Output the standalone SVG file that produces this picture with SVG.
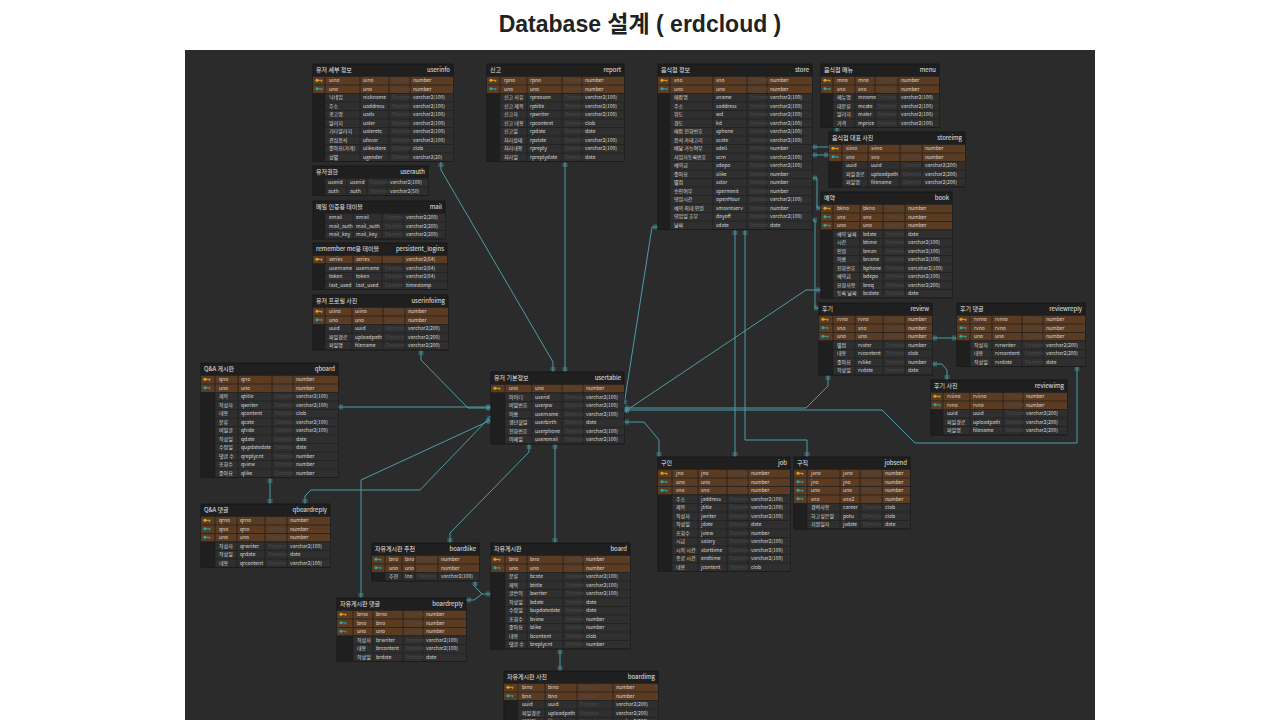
<svg xmlns="http://www.w3.org/2000/svg" width="1280" height="720" viewBox="0 0 1280 720">
<defs>
<style>
.tb{fill:#1f1f1f;stroke:#141414;stroke-width:.8}
.k{fill:#5b3b21}
.n{fill:#2f2f2f}
.g{fill:url(#g)}
.s{stroke:#1f1f1f;stroke-width:.8;fill:none}
.h{font-family:"Noto Sans CJK KR","Noto Sans",sans-serif;font-size:6px;fill:#e8e8e8}
.t{font-family:"Noto Sans CJK KR","Noto Sans",sans-serif;font-size:5px;fill:#dadada}
.d{fill:#4c4c4c}
.c{fill:none;stroke:#4a9ea6;stroke-width:1;marker-start:url(#m);marker-end:url(#m)}
.c1{fill:none;stroke:#4a9ea6;stroke-width:1;marker-start:url(#m)}
</style>
<pattern id="g" width="8.5" height="8.5" y="3.5" patternUnits="userSpaceOnUse"><rect width="8.5" height=".8" fill="#1f1f1f"/></pattern>
<marker id="m" markerWidth="10" markerHeight="10" refX="0" refY="0" orient="auto-start-reverse" markerUnits="userSpaceOnUse" overflow="visible"><path d="M-2,-2.6V2.6M-4,-2.6V2.6" stroke="#4a9ea6" stroke-width=".8" fill="none"/></marker>
<g id="kp" fill="#d8a521"><circle cx="4" cy="4.25" r="1.6"/><rect x="5" y="3.8" width="4.5" height="1"/><rect x="8" y="4.6" width="1" height="1.2"/></g>
<g id="kf" fill="#2aa7a3"><circle cx="4" cy="4.25" r="1.6"/><rect x="5" y="3.8" width="4.5" height="1"/><rect x="8" y="4.6" width="1" height="1.2"/></g>
</defs>
<rect width="1280" height="720" fill="#ffffff"/>
<text x="640" y="32" text-anchor="middle" font-family="Liberation Sans, Noto Sans CJK KR, sans-serif" font-size="23" font-weight="bold" fill="#222">Database 설계 ( erdcloud )</text>
<rect x="185" y="50" width="910" height="670" fill="#2b2b2b"/>

<g id="connectors">
<path class="c" d="M441,162V170L553,362V372"/>
<path class="c" d="M565,162V372"/>
<path class="c" d="M421,350V360L468,408H491"/>
<path class="c" d="M338,407H491"/>
<path class="c" d="M305,504V496L311,490H420L491,416"/>
<path class="c" d="M361,598V480L491,420"/>
<path class="c" d="M450,543V533L529,452V444"/>
<path class="c" d="M555,543V444"/>
<path class="c" d="M560,649V671"/>
<path class="c" d="M475,581V587L482,594H491"/>
<path class="c1" d="M466,600H474L482,594"/>
<path class="c" d="M270,478V504"/>
<path class="c" d="M658,227H652L624,405"/>
<path class="c" d="M624,422H644L659,440V457"/>
<path class="c" d="M735,230V457"/>
<path class="c" d="M745,230V440H807V457"/>
<path class="c" d="M624,412L806,290H821"/>
<path class="c" d="M624,408H806L828,386V375"/>
<path class="c" d="M624,410H882L915,443H1077V366"/>
<path class="c" d="M812,147H837V127"/>
<path class="c" d="M812,155H829"/>
<path class="c" d="M812,178H817V208H821"/>
<path class="c" d="M812,220H815V308H819"/>
<path class="c" d="M932,338H957"/>
<path class="c" d="M932,364H942L947,370V380"/>
</g>

<g id="userinfo" transform="translate(313,64)">
<rect class="tb" width="140" height="97.5"/>
<text class="h" x="3" y="8">유저 세부 정보</text><text class="h" x="137" y="8" text-anchor="end">userinfo</text>
<rect class="k" y="12" width="140" height="17"/><rect class="n" x="12" y="29" width="128" height="68"/>
<rect class="g" y="12" width="140" height="85.5"/>
<path class="s" d="M12,12V97.5M47,12V97.5M76,12V97.5M97,12V97.5"/>
<use href="#kp" y="12"/><use href="#kf" y="20.5"/>
<text class="t" y="18.2"><tspan x="16">uino</tspan><tspan x="50">uino</tspan><tspan class="d" x="79">Domain</tspan><tspan x="100">number</tspan></text>
<text class="t" y="26.7"><tspan x="16">uno</tspan><tspan x="50">uno</tspan><tspan class="d" x="79">Domain</tspan><tspan x="100">number</tspan></text>
<text class="t" y="35.2"><tspan x="16">닉네임</tspan><tspan x="50">nickname</tspan><tspan class="d" x="79">Domain</tspan><tspan x="100">varchar2(100)</tspan></text>
<text class="t" y="43.7"><tspan x="16">주소</tspan><tspan x="50">uaddress</tspan><tspan class="d" x="79">Domain</tspan><tspan x="100">varchar2(100)</tspan></text>
<text class="t" y="52.2"><tspan x="16">광고명</tspan><tspan x="50">uads</tspan><tspan class="d" x="79">Domain</tspan><tspan x="100">varchar2(100)</tspan></text>
<text class="t" y="60.7"><tspan x="16">알러지</tspan><tspan x="50">ualer</tspan><tspan class="d" x="79">Domain</tspan><tspan x="100">varchar2(100)</tspan></text>
<text class="t" y="69.2"><tspan x="16">기타알러지</tspan><tspan x="50">ualeretc</tspan><tspan class="d" x="79">Domain</tspan><tspan x="100">varchar2(100)</tspan></text>
<text class="t" y="77.7"><tspan x="16">관심음식</tspan><tspan x="50">ufavor</tspan><tspan class="d" x="79">Domain</tspan><tspan x="100">varchar2(100)</tspan></text>
<text class="t" y="86.2"><tspan x="16">좋아요(가게)</tspan><tspan x="50">ulikestore</tspan><tspan class="d" x="79">Domain</tspan><tspan x="100">clob</tspan></text>
<text class="t" y="94.7"><tspan x="16">성별</tspan><tspan x="50">ugender</tspan><tspan class="d" x="79">Domain</tspan><tspan x="100">varchar2(20)</tspan></text>
</g>

<g id="userauth" transform="translate(313,166)">
<rect class="tb" width="115" height="29.5"/>
<text class="h" x="3" y="8">유저권한</text><text class="h" x="112" y="8" text-anchor="end">userauth</text>
<rect class="n" x="12" y="12" width="103" height="17"/>
<rect class="g" y="12" width="115" height="17.5"/>
<path class="s" d="M12,12V29.5M34,12V29.5M54,12V29.5M74,12V29.5"/>
<text class="t" y="18.2"><tspan x="15">userid</tspan><tspan x="37">userid</tspan><tspan class="d" x="57">Domain</tspan><tspan x="77">varchar2(100)</tspan></text>
<text class="t" y="26.7"><tspan x="15">auth</tspan><tspan x="37">auth</tspan><tspan class="d" x="57">Domain</tspan><tspan x="77">varchar2(50)</tspan></text>
</g>

<g id="mail" transform="translate(313,201)">
<rect class="tb" width="132" height="38"/>
<text class="h" x="3" y="8">메일 인증용 테이블</text><text class="h" x="129" y="8" text-anchor="end">mail</text>
<rect class="n" x="12" y="12" width="120" height="25.5"/>
<rect class="g" y="12" width="132" height="26"/>
<path class="s" d="M12,12V38M40,12V38M69,12V38M90,12V38"/>
<text class="t" y="18.2"><tspan x="16">email</tspan><tspan x="43">email</tspan><tspan class="d" x="72">Domain</tspan><tspan x="93">varchar2(200)</tspan></text>
<text class="t" y="26.7"><tspan x="16">mail_auth</tspan><tspan x="43">mail_auth</tspan><tspan class="d" x="72">Domain</tspan><tspan x="93">varchar2(200)</tspan></text>
<text class="t" y="35.2"><tspan x="16">mail_key</tspan><tspan x="43">mail_key</tspan><tspan class="d" x="72">Domain</tspan><tspan x="93">varchar2(200)</tspan></text>
</g>

<g id="persistent_logins" transform="translate(313,243)">
<rect class="tb" width="134" height="46.5"/>
<text class="h" x="3" y="8">remember me용 테이블</text><text class="h" x="131" y="8" text-anchor="end">persistent_logins</text>
<rect class="k" y="12" width="134" height="8.5"/><rect class="n" x="12" y="20.5" width="122" height="25.5"/>
<rect class="g" y="12" width="134" height="34.5"/>
<path class="s" d="M12,12V46.5M40,12V46.5M69,12V46.5M90,12V46.5"/>
<use href="#kp" y="12"/>
<text class="t" y="18.2"><tspan x="16">series</tspan><tspan x="43">series</tspan><tspan class="d" x="72">Domain</tspan><tspan x="93">varchar2(64)</tspan></text>
<text class="t" y="26.7"><tspan x="16">username</tspan><tspan x="43">username</tspan><tspan class="d" x="72">Domain</tspan><tspan x="93">varchar2(64)</tspan></text>
<text class="t" y="35.2"><tspan x="16">token</tspan><tspan x="43">token</tspan><tspan class="d" x="72">Domain</tspan><tspan x="93">varchar2(64)</tspan></text>
<text class="t" y="43.7"><tspan x="16">last_used</tspan><tspan x="43">last_used</tspan><tspan class="d" x="72">Domain</tspan><tspan x="93">timestamp</tspan></text>
</g>

<g id="userinfoimg" transform="translate(313,295)">
<rect class="tb" width="135" height="55"/>
<text class="h" x="3" y="8">유저 프로필 사진</text><text class="h" x="132" y="8" text-anchor="end">userinfoimg</text>
<rect class="k" y="12" width="135" height="17"/><rect class="n" x="12" y="29" width="123" height="25.5"/>
<rect class="g" y="12" width="135" height="43"/>
<path class="s" d="M12,12V55M39,12V55M70,12V55M92,12V55"/>
<use href="#kp" y="12"/><use href="#kf" y="20.5"/>
<text class="t" y="18.2"><tspan x="16">uiino</tspan><tspan x="42">uiino</tspan><tspan class="d" x="73">Domain</tspan><tspan x="95">number</tspan></text>
<text class="t" y="26.7"><tspan x="16">uno</tspan><tspan x="42">uno</tspan><tspan class="d" x="73">Domain</tspan><tspan x="95">number</tspan></text>
<text class="t" y="35.2"><tspan x="16">uuid</tspan><tspan x="42">uuid</tspan><tspan class="d" x="73">Domain</tspan><tspan x="95">varchar2(200)</tspan></text>
<text class="t" y="43.7"><tspan x="16">파일경로</tspan><tspan x="42">uploadpath</tspan><tspan class="d" x="73">Domain</tspan><tspan x="95">varchar2(200)</tspan></text>
<text class="t" y="52.2"><tspan x="16">파일명</tspan><tspan x="42">filename</tspan><tspan class="d" x="73">Domain</tspan><tspan x="95">varchar2(200)</tspan></text>
</g>

<g id="report" transform="translate(487,64)">
<rect class="tb" width="137" height="97.5"/>
<text class="h" x="3" y="8">신고</text><text class="h" x="134" y="8" text-anchor="end">report</text>
<rect class="k" y="12" width="137" height="17"/><rect class="n" x="13" y="29" width="124" height="68"/>
<rect class="g" y="12" width="137" height="85.5"/>
<path class="s" d="M13,12V97.5M40,12V97.5M75,12V97.5M95,12V97.5"/>
<use href="#kp" y="12"/><use href="#kf" y="20.5"/>
<text class="t" y="18.2"><tspan x="17">rpno</tspan><tspan x="43">rpno</tspan><tspan class="d" x="78">Domain</tspan><tspan x="98">number</tspan></text>
<text class="t" y="26.7"><tspan x="17">uno</tspan><tspan x="43">uno</tspan><tspan class="d" x="78">Domain</tspan><tspan x="98">number</tspan></text>
<text class="t" y="35.2"><tspan x="17">신고 사유</tspan><tspan x="43">rpreason</tspan><tspan class="d" x="78">Domain</tspan><tspan x="98">varchar2(100)</tspan></text>
<text class="t" y="43.7"><tspan x="17">신고 제목</tspan><tspan x="43">rptitle</tspan><tspan class="d" x="78">Domain</tspan><tspan x="98">varchar2(100)</tspan></text>
<text class="t" y="52.2"><tspan x="17">신고자</tspan><tspan x="43">rpwriter</tspan><tspan class="d" x="78">Domain</tspan><tspan x="98">varchar2(100)</tspan></text>
<text class="t" y="60.7"><tspan x="17">신고 내용</tspan><tspan x="43">rpcontent</tspan><tspan class="d" x="78">Domain</tspan><tspan x="98">clob</tspan></text>
<text class="t" y="69.2"><tspan x="17">신고일</tspan><tspan x="43">rpdate</tspan><tspan class="d" x="78">Domain</tspan><tspan x="98">date</tspan></text>
<text class="t" y="77.7"><tspan x="17">처리상태</tspan><tspan x="43">rpstate</tspan><tspan class="d" x="78">Domain</tspan><tspan x="98">varchar2(100)</tspan></text>
<text class="t" y="86.2"><tspan x="17">처리내용</tspan><tspan x="43">rpreply</tspan><tspan class="d" x="78">Domain</tspan><tspan x="98">varchar2(100)</tspan></text>
<text class="t" y="94.7"><tspan x="17">처리일</tspan><tspan x="43">rpreplydate</tspan><tspan class="d" x="78">Domain</tspan><tspan x="98">date</tspan></text>
</g>

<g id="store" transform="translate(658,64)">
<rect class="tb" width="154" height="165.5"/>
<text class="h" x="3" y="8">음식점 정보</text><text class="h" x="151" y="8" text-anchor="end">store</text>
<rect class="k" y="12" width="154" height="17"/><rect class="n" x="12" y="29" width="142" height="136"/>
<rect class="g" y="12" width="154" height="153.5"/>
<path class="s" d="M12,12V165.5M55,12V165.5M89,12V165.5M109,12V165.5"/>
<use href="#kp" y="12"/><use href="#kf" y="20.5"/>
<text class="t" y="18.2"><tspan x="16">sno</tspan><tspan x="58">sno</tspan><tspan class="d" x="92">Domain</tspan><tspan x="112">number</tspan></text>
<text class="t" y="26.7"><tspan x="16">uno</tspan><tspan x="58">uno</tspan><tspan class="d" x="92">Domain</tspan><tspan x="112">number</tspan></text>
<text class="t" y="35.2"><tspan x="16">매장명</tspan><tspan x="58">sname</tspan><tspan class="d" x="92">Domain</tspan><tspan x="112">varchar2(100)</tspan></text>
<text class="t" y="43.7"><tspan x="16">주소</tspan><tspan x="58">saddress</tspan><tspan class="d" x="92">Domain</tspan><tspan x="112">varchar2(100)</tspan></text>
<text class="t" y="52.2"><tspan x="16">위도</tspan><tspan x="58">wd</tspan><tspan class="d" x="92">Domain</tspan><tspan x="112">varchar2(100)</tspan></text>
<text class="t" y="60.7"><tspan x="16">경도</tspan><tspan x="58">kd</tspan><tspan class="d" x="92">Domain</tspan><tspan x="112">varchar2(100)</tspan></text>
<text class="t" y="69.2"><tspan x="16">매장 전화번호</tspan><tspan x="58">sphone</tspan><tspan class="d" x="92">Domain</tspan><tspan x="112">varchar2(100)</tspan></text>
<text class="t" y="77.7"><tspan x="16">음식 카테고리</tspan><tspan x="58">scate</tspan><tspan class="d" x="92">Domain</tspan><tspan x="112">varchar2(100)</tspan></text>
<text class="t" y="86.2"><tspan x="16">배달 가능여부</tspan><tspan x="58">sdeli</tspan><tspan class="d" x="92">Domain</tspan><tspan x="112">number</tspan></text>
<text class="t" y="94.7"><tspan x="16">사업자등록번호</tspan><tspan x="58">scrn</tspan><tspan class="d" x="92">Domain</tspan><tspan x="112">varchar2(100)</tspan></text>
<text class="t" y="103.2"><tspan x="16">예약금</tspan><tspan x="58">sdepo</tspan><tspan class="d" x="92">Domain</tspan><tspan x="112">varchar2(100)</tspan></text>
<text class="t" y="111.7"><tspan x="16">좋아요</tspan><tspan x="58">slike</tspan><tspan class="d" x="92">Domain</tspan><tspan x="112">number</tspan></text>
<text class="t" y="120.2"><tspan x="16">별점</tspan><tspan x="58">sstar</tspan><tspan class="d" x="92">Domain</tspan><tspan x="112">number</tspan></text>
<text class="t" y="128.7"><tspan x="16">승인여부</tspan><tspan x="58">spermmit</tspan><tspan class="d" x="92">Domain</tspan><tspan x="112">number</tspan></text>
<text class="t" y="137.2"><tspan x="16">영업시간</tspan><tspan x="58">openHour</tspan><tspan class="d" x="92">Domain</tspan><tspan x="112">varchar2(100)</tspan></text>
<text class="t" y="145.7"><tspan x="16">예약 최대 인원</tspan><tspan x="58">smaxreserv</tspan><tspan class="d" x="92">Domain</tspan><tspan x="112">number</tspan></text>
<text class="t" y="154.2"><tspan x="16">영업일 휴무</tspan><tspan x="58">dayoff</tspan><tspan class="d" x="92">Domain</tspan><tspan x="112">varchar2(100)</tspan></text>
<text class="t" y="162.7"><tspan x="16">날짜</tspan><tspan x="58">sdate</tspan><tspan class="d" x="92">Domain</tspan><tspan x="112">date</tspan></text>
</g>

<g id="menu" transform="translate(821,64)">
<rect class="tb" width="118" height="63.5"/>
<text class="h" x="3" y="8">음식점 메뉴</text><text class="h" x="115" y="8" text-anchor="end">menu</text>
<rect class="k" y="12" width="118" height="17"/><rect class="n" x="12" y="29" width="106" height="34"/>
<rect class="g" y="12" width="118" height="51.5"/>
<path class="s" d="M12,12V63.5M34,12V63.5M54,12V63.5M77,12V63.5"/>
<use href="#kp" y="12"/><use href="#kf" y="20.5"/>
<text class="t" y="18.2"><tspan x="16">mno</tspan><tspan x="37">mno</tspan><tspan class="d" x="57">Domain</tspan><tspan x="80">number</tspan></text>
<text class="t" y="26.7"><tspan x="16">sno</tspan><tspan x="37">sno</tspan><tspan class="d" x="57">Domain</tspan><tspan x="80">number</tspan></text>
<text class="t" y="35.2"><tspan x="16">메뉴명</tspan><tspan x="37">mname</tspan><tspan class="d" x="57">Domain</tspan><tspan x="80">varchar2(100)</tspan></text>
<text class="t" y="43.7"><tspan x="16">대분류</tspan><tspan x="37">mcate</tspan><tspan class="d" x="57">Domain</tspan><tspan x="80">varchar2(100)</tspan></text>
<text class="t" y="52.2"><tspan x="16">알러지</tspan><tspan x="37">maler</tspan><tspan class="d" x="57">Domain</tspan><tspan x="80">varchar2(100)</tspan></text>
<text class="t" y="60.7"><tspan x="16">가격</tspan><tspan x="37">mprice</tspan><tspan class="d" x="57">Domain</tspan><tspan x="80">varchar2(100)</tspan></text>
</g>

<g id="storeimg" transform="translate(829,132)">
<rect class="tb" width="136" height="55"/>
<text class="h" x="3" y="8">음식점 대표 사진</text><text class="h" x="133" y="8" text-anchor="end">storeimg</text>
<rect class="k" y="12" width="136" height="17"/><rect class="n" x="13" y="29" width="123" height="25.5"/>
<rect class="g" y="12" width="136" height="43"/>
<path class="s" d="M13,12V55M39,12V55M71,12V55M93,12V55"/>
<use href="#kp" y="12"/><use href="#kf" y="20.5"/>
<text class="t" y="18.2"><tspan x="17">siino</tspan><tspan x="42">siino</tspan><tspan class="d" x="74">Domain</tspan><tspan x="96">number</tspan></text>
<text class="t" y="26.7"><tspan x="17">sno</tspan><tspan x="42">sno</tspan><tspan class="d" x="74">Domain</tspan><tspan x="96">number</tspan></text>
<text class="t" y="35.2"><tspan x="17">uuid</tspan><tspan x="42">uuid</tspan><tspan class="d" x="74">Domain</tspan><tspan x="96">varchar2(200)</tspan></text>
<text class="t" y="43.7"><tspan x="17">파일경로</tspan><tspan x="42">uploadpath</tspan><tspan class="d" x="74">Domain</tspan><tspan x="96">varchar2(200)</tspan></text>
<text class="t" y="52.2"><tspan x="17">파일명</tspan><tspan x="42">filename</tspan><tspan class="d" x="74">Domain</tspan><tspan x="96">varchar2(200)</tspan></text>
</g>

<g id="book" transform="translate(821,192)">
<rect class="tb" width="131" height="106"/>
<text class="h" x="3" y="8">예약</text><text class="h" x="128" y="8" text-anchor="end">book</text>
<rect class="k" y="12" width="131" height="25.5"/><rect class="n" x="12" y="37.5" width="119" height="68"/>
<rect class="g" y="12" width="131" height="94"/>
<path class="s" d="M12,12V106M39,12V106M62,12V106M84,12V106"/>
<use href="#kp" y="12"/><use href="#kf" y="20.5"/><use href="#kf" y="29"/>
<text class="t" y="18.2"><tspan x="16">bkno</tspan><tspan x="42">bkno</tspan><tspan class="d" x="65">Domain</tspan><tspan x="87">number</tspan></text>
<text class="t" y="26.7"><tspan x="16">sno</tspan><tspan x="42">sno</tspan><tspan class="d" x="65">Domain</tspan><tspan x="87">number</tspan></text>
<text class="t" y="35.2"><tspan x="16">uno</tspan><tspan x="42">uno</tspan><tspan class="d" x="65">Domain</tspan><tspan x="87">number</tspan></text>
<text class="t" y="43.7"><tspan x="16">예약 날짜</tspan><tspan x="42">bdate</tspan><tspan class="d" x="65">Domain</tspan><tspan x="87">date</tspan></text>
<text class="t" y="52.2"><tspan x="16">시간</tspan><tspan x="42">btime</tspan><tspan class="d" x="65">Domain</tspan><tspan x="87">varchar2(100)</tspan></text>
<text class="t" y="60.7"><tspan x="16">인원</tspan><tspan x="42">bman</tspan><tspan class="d" x="65">Domain</tspan><tspan x="87">varchar2(100)</tspan></text>
<text class="t" y="69.2"><tspan x="16">이름</tspan><tspan x="42">bname</tspan><tspan class="d" x="65">Domain</tspan><tspan x="87">varchar2(100)</tspan></text>
<text class="t" y="77.7"><tspan x="16">전화번호</tspan><tspan x="42">bphone</tspan><tspan class="d" x="65">Domain</tspan><tspan x="87">varcahar2(100)</tspan></text>
<text class="t" y="86.2"><tspan x="16">예약금</tspan><tspan x="42">bdepo</tspan><tspan class="d" x="65">Domain</tspan><tspan x="87">varchar2(100)</tspan></text>
<text class="t" y="94.7"><tspan x="16">요청사항</tspan><tspan x="42">breq</tspan><tspan class="d" x="65">Domain</tspan><tspan x="87">varchar2(200)</tspan></text>
<text class="t" y="103.2"><tspan x="16">등록 날짜</tspan><tspan x="42">bcdate</tspan><tspan class="d" x="65">Domain</tspan><tspan x="87">date</tspan></text>
</g>

<g id="review" transform="translate(819,303)">
<rect class="tb" width="113" height="72"/>
<text class="h" x="3" y="8">후기</text><text class="h" x="110" y="8" text-anchor="end">review</text>
<rect class="k" y="12" width="113" height="25.5"/><rect class="n" x="14" y="37.5" width="99" height="34"/>
<rect class="g" y="12" width="113" height="60"/>
<path class="s" d="M14,12V72M36,12V72M64,12V72M86,12V72"/>
<use href="#kp" y="12"/><use href="#kf" y="20.5"/><use href="#kf" y="29"/>
<text class="t" y="18.2"><tspan x="18">rvno</tspan><tspan x="39">rvno</tspan><tspan class="d" x="67">Domain</tspan><tspan x="89">number</tspan></text>
<text class="t" y="26.7"><tspan x="18">sno</tspan><tspan x="39">sno</tspan><tspan class="d" x="67">Domain</tspan><tspan x="89">number</tspan></text>
<text class="t" y="35.2"><tspan x="18">uno</tspan><tspan x="39">uno</tspan><tspan class="d" x="67">Domain</tspan><tspan x="89">number</tspan></text>
<text class="t" y="43.7"><tspan x="18">별점</tspan><tspan x="39">rvstar</tspan><tspan class="d" x="67">Domain</tspan><tspan x="89">number</tspan></text>
<text class="t" y="52.2"><tspan x="18">내용</tspan><tspan x="39">rvcontent</tspan><tspan class="d" x="67">Domain</tspan><tspan x="89">clob</tspan></text>
<text class="t" y="60.7"><tspan x="18">좋아요</tspan><tspan x="39">rvlike</tspan><tspan class="d" x="67">Domain</tspan><tspan x="89">number</tspan></text>
<text class="t" y="69.2"><tspan x="18">작성일</tspan><tspan x="39">rvdate</tspan><tspan class="d" x="67">Domain</tspan><tspan x="89">date</tspan></text>
</g>

<g id="reviewreply" transform="translate(957,303)">
<rect class="tb" width="128" height="63.5"/>
<text class="h" x="3" y="8">후기 댓글</text><text class="h" x="125" y="8" text-anchor="end">reviewreply</text>
<rect class="k" y="12" width="128" height="25.5"/><rect class="n" x="13" y="37.5" width="115" height="25.5"/>
<rect class="g" y="12" width="128" height="51.5"/>
<path class="s" d="M13,12V63.5M35,12V63.5M65,12V63.5M86,12V63.5"/>
<use href="#kp" y="12"/><use href="#kf" y="20.5"/><use href="#kf" y="29"/>
<text class="t" y="18.2"><tspan x="17">rvrno</tspan><tspan x="38">rvrno</tspan><tspan class="d" x="68">Domain</tspan><tspan x="89">number</tspan></text>
<text class="t" y="26.7"><tspan x="17">rvno</tspan><tspan x="38">rvno</tspan><tspan class="d" x="68">Domain</tspan><tspan x="89">number</tspan></text>
<text class="t" y="35.2"><tspan x="17">uno</tspan><tspan x="38">uno</tspan><tspan class="d" x="68">Domain</tspan><tspan x="89">number</tspan></text>
<text class="t" y="43.7"><tspan x="17">작성자</tspan><tspan x="38">rvrwriter</tspan><tspan class="d" x="68">Domain</tspan><tspan x="89">varchar2(200)</tspan></text>
<text class="t" y="52.2"><tspan x="17">내용</tspan><tspan x="38">rvrcontent</tspan><tspan class="d" x="68">Domain</tspan><tspan x="89">varchar2(200)</tspan></text>
<text class="t" y="60.7"><tspan x="17">작성일</tspan><tspan x="38">rvrdate</tspan><tspan class="d" x="68">Domain</tspan><tspan x="89">date</tspan></text>
</g>

<g id="reviewimg" transform="translate(931,380)">
<rect class="tb" width="136" height="55"/>
<text class="h" x="3" y="8">후기 사진</text><text class="h" x="133" y="8" text-anchor="end">reviewimg</text>
<rect class="k" y="12" width="136" height="17"/><rect class="n" x="12" y="29" width="124" height="25.5"/>
<rect class="g" y="12" width="136" height="43"/>
<path class="s" d="M12,12V55M39,12V55M72,12V55M92,12V55"/>
<use href="#kp" y="12"/><use href="#kf" y="20.5"/>
<text class="t" y="18.2"><tspan x="16">rviino</tspan><tspan x="42">rviino</tspan><tspan class="d" x="75">Domain</tspan><tspan x="95">number</tspan></text>
<text class="t" y="26.7"><tspan x="16">rvno</tspan><tspan x="42">rvno</tspan><tspan class="d" x="75">Domain</tspan><tspan x="95">number</tspan></text>
<text class="t" y="35.2"><tspan x="16">uuid</tspan><tspan x="42">uuid</tspan><tspan class="d" x="75">Domain</tspan><tspan x="95">varchar2(200)</tspan></text>
<text class="t" y="43.7"><tspan x="16">파일경로</tspan><tspan x="42">uploadpath</tspan><tspan class="d" x="75">Domain</tspan><tspan x="95">varchar2(200)</tspan></text>
<text class="t" y="52.2"><tspan x="16">파일명</tspan><tspan x="42">filename</tspan><tspan class="d" x="75">Domain</tspan><tspan x="95">varchar2(200)</tspan></text>
</g>

<g id="usertable" transform="translate(491,372)">
<rect class="tb" width="133" height="72"/>
<text class="h" x="3" y="8">유저 기본정보</text><text class="h" x="130" y="8" text-anchor="end">usertable</text>
<rect class="k" y="12" width="133" height="8.5"/><rect class="n" x="14" y="20.5" width="119" height="51"/>
<rect class="g" y="12" width="133" height="60"/>
<path class="s" d="M14,12V72M41,12V72M71,12V72M92,12V72"/>
<use href="#kp" y="12"/>
<text class="t" y="18.2"><tspan x="18">uno</tspan><tspan x="44">uno</tspan><tspan class="d" x="74">Domain</tspan><tspan x="95">number</tspan></text>
<text class="t" y="26.7"><tspan x="18">아이디</tspan><tspan x="44">userid</tspan><tspan class="d" x="74">Domain</tspan><tspan x="95">varchar2(100)</tspan></text>
<text class="t" y="35.2"><tspan x="18">비밀번호</tspan><tspan x="44">userpw</tspan><tspan class="d" x="74">Domain</tspan><tspan x="95">varchar2(100)</tspan></text>
<text class="t" y="43.7"><tspan x="18">이름</tspan><tspan x="44">username</tspan><tspan class="d" x="74">Domain</tspan><tspan x="95">varchar2(100)</tspan></text>
<text class="t" y="52.2"><tspan x="18">생년월일</tspan><tspan x="44">userbirth</tspan><tspan class="d" x="74">Domain</tspan><tspan x="95">date</tspan></text>
<text class="t" y="60.7"><tspan x="18">전화번호</tspan><tspan x="44">userphone</tspan><tspan class="d" x="74">Domain</tspan><tspan x="95">varchar2(100)</tspan></text>
<text class="t" y="69.2"><tspan x="18">이메일</tspan><tspan x="44">useremail</tspan><tspan class="d" x="74">Domain</tspan><tspan x="95">varchar2(100)</tspan></text>
</g>

<g id="qboard" transform="translate(201,363)">
<rect class="tb" width="137" height="114.5"/>
<text class="h" x="3" y="8">Q&amp;A 게시판</text><text class="h" x="134" y="8" text-anchor="end">qboard</text>
<rect class="k" y="12" width="137" height="17"/><rect class="n" x="14" y="29" width="123" height="85"/>
<rect class="g" y="12" width="137" height="102.5"/>
<path class="s" d="M14,12V114.5M37,12V114.5M71,12V114.5M92,12V114.5"/>
<use href="#kp" y="12"/><use href="#kf" y="20.5"/>
<text class="t" y="18.2"><tspan x="18">qno</tspan><tspan x="40">qno</tspan><tspan class="d" x="74">Domain</tspan><tspan x="95">number</tspan></text>
<text class="t" y="26.7"><tspan x="18">uno</tspan><tspan x="40">uno</tspan><tspan class="d" x="74">Domain</tspan><tspan x="95">number</tspan></text>
<text class="t" y="35.2"><tspan x="18">제목</tspan><tspan x="40">qtitle</tspan><tspan class="d" x="74">Domain</tspan><tspan x="95">varchar2(100)</tspan></text>
<text class="t" y="43.7"><tspan x="18">작성자</tspan><tspan x="40">qwriter</tspan><tspan class="d" x="74">Domain</tspan><tspan x="95">varchar2(100)</tspan></text>
<text class="t" y="52.2"><tspan x="18">내용</tspan><tspan x="40">qcontent</tspan><tspan class="d" x="74">Domain</tspan><tspan x="95">clob</tspan></text>
<text class="t" y="60.7"><tspan x="18">분류</tspan><tspan x="40">qcate</tspan><tspan class="d" x="74">Domain</tspan><tspan x="95">varchar2(100)</tspan></text>
<text class="t" y="69.2"><tspan x="18">비밀글</tspan><tspan x="40">qhide</tspan><tspan class="d" x="74">Domain</tspan><tspan x="95">varchar2(100)</tspan></text>
<text class="t" y="77.7"><tspan x="18">작성일</tspan><tspan x="40">qdate</tspan><tspan class="d" x="74">Domain</tspan><tspan x="95">date</tspan></text>
<text class="t" y="86.2"><tspan x="18">수정일</tspan><tspan x="40">qupdatedate</tspan><tspan class="d" x="74">Domain</tspan><tspan x="95">date</tspan></text>
<text class="t" y="94.7"><tspan x="18">댓글 수</tspan><tspan x="40">qreplycnt</tspan><tspan class="d" x="74">Domain</tspan><tspan x="95">number</tspan></text>
<text class="t" y="103.2"><tspan x="18">조회수</tspan><tspan x="40">qview</tspan><tspan class="d" x="74">Domain</tspan><tspan x="95">number</tspan></text>
<text class="t" y="111.7"><tspan x="18">좋아요</tspan><tspan x="40">qlike</tspan><tspan class="d" x="74">Domain</tspan><tspan x="95">number</tspan></text>
</g>

<g id="qboardreply" transform="translate(201,504)">
<rect class="tb" width="129" height="63.5"/>
<text class="h" x="3" y="8">Q&amp;A 댓글</text><text class="h" x="126" y="8" text-anchor="end">qboardreply</text>
<rect class="k" y="12" width="129" height="25.5"/><rect class="n" x="14" y="37.5" width="115" height="25.5"/>
<rect class="g" y="12" width="129" height="51.5"/>
<path class="s" d="M14,12V63.5M36,12V63.5M64,12V63.5M86,12V63.5"/>
<use href="#kp" y="12"/><use href="#kf" y="20.5"/><use href="#kf" y="29"/>
<text class="t" y="18.2"><tspan x="18">qrno</tspan><tspan x="39">qrno</tspan><tspan class="d" x="67">Domain</tspan><tspan x="89">number</tspan></text>
<text class="t" y="26.7"><tspan x="18">qno</tspan><tspan x="39">qno</tspan><tspan class="d" x="67">Domain</tspan><tspan x="89">number</tspan></text>
<text class="t" y="35.2"><tspan x="18">uno</tspan><tspan x="39">uno</tspan><tspan class="d" x="67">Domain</tspan><tspan x="89">number</tspan></text>
<text class="t" y="43.7"><tspan x="18">작성자</tspan><tspan x="39">qrwriter</tspan><tspan class="d" x="67">Domain</tspan><tspan x="89">varchar2(100)</tspan></text>
<text class="t" y="52.2"><tspan x="18">작성일</tspan><tspan x="39">qrdate</tspan><tspan class="d" x="67">Domain</tspan><tspan x="89">date</tspan></text>
<text class="t" y="60.7"><tspan x="18">내용</tspan><tspan x="39">qrcontent</tspan><tspan class="d" x="67">Domain</tspan><tspan x="89">varchar2(100)</tspan></text>
</g>

<g id="job" transform="translate(658,457)">
<rect class="tb" width="132" height="114.5"/>
<text class="h" x="3" y="8">구인</text><text class="h" x="129" y="8" text-anchor="end">job</text>
<rect class="k" y="12" width="132" height="25.5"/><rect class="n" x="14" y="37.5" width="118" height="76.5"/>
<rect class="g" y="12" width="132" height="102.5"/>
<path class="s" d="M14,12V114.5M40,12V114.5M69,12V114.5M90,12V114.5"/>
<use href="#kp" y="12"/><use href="#kf" y="20.5"/><use href="#kf" y="29"/>
<text class="t" y="18.2"><tspan x="18">jno</tspan><tspan x="43">jno</tspan><tspan class="d" x="72">Domain</tspan><tspan x="93">number</tspan></text>
<text class="t" y="26.7"><tspan x="18">uno</tspan><tspan x="43">uno</tspan><tspan class="d" x="72">Domain</tspan><tspan x="93">number</tspan></text>
<text class="t" y="35.2"><tspan x="18">sno</tspan><tspan x="43">sno</tspan><tspan class="d" x="72">Domain</tspan><tspan x="93">number</tspan></text>
<text class="t" y="43.7"><tspan x="18">주소</tspan><tspan x="43">jaddress</tspan><tspan class="d" x="72">Domain</tspan><tspan x="93">varchar2(100)</tspan></text>
<text class="t" y="52.2"><tspan x="18">제목</tspan><tspan x="43">jtitle</tspan><tspan class="d" x="72">Domain</tspan><tspan x="93">varchar2(100)</tspan></text>
<text class="t" y="60.7"><tspan x="18">작성자</tspan><tspan x="43">jwriter</tspan><tspan class="d" x="72">Domain</tspan><tspan x="93">varchar2(100)</tspan></text>
<text class="t" y="69.2"><tspan x="18">작성일</tspan><tspan x="43">jdate</tspan><tspan class="d" x="72">Domain</tspan><tspan x="93">date</tspan></text>
<text class="t" y="77.7"><tspan x="18">조회수</tspan><tspan x="43">jview</tspan><tspan class="d" x="72">Domain</tspan><tspan x="93">number</tspan></text>
<text class="t" y="86.2"><tspan x="18">시급</tspan><tspan x="43">salary</tspan><tspan class="d" x="72">Domain</tspan><tspan x="93">varchar2(100)</tspan></text>
<text class="t" y="94.7"><tspan x="18">시작 시간</tspan><tspan x="43">starttime</tspan><tspan class="d" x="72">Domain</tspan><tspan x="93">varchar2(100)</tspan></text>
<text class="t" y="103.2"><tspan x="18">종료 시간</tspan><tspan x="43">endtime</tspan><tspan class="d" x="72">Domain</tspan><tspan x="93">varchar2(100)</tspan></text>
<text class="t" y="111.7"><tspan x="18">내용</tspan><tspan x="43">jcontent</tspan><tspan class="d" x="72">Domain</tspan><tspan x="93">clob</tspan></text>
</g>

<g id="jobsend" transform="translate(794,457)">
<rect class="tb" width="116" height="72"/>
<text class="h" x="3" y="8">구직</text><text class="h" x="113" y="8" text-anchor="end">jobsend</text>
<rect class="k" y="12" width="116" height="34"/><rect class="n" x="13" y="46" width="103" height="25.5"/>
<rect class="g" y="12" width="116" height="60"/>
<path class="s" d="M13,12V72M46,12V72M66,12V72M88,12V72"/>
<use href="#kp" y="12"/><use href="#kf" y="20.5"/><use href="#kf" y="29"/><use href="#kf" y="37.5"/>
<text class="t" y="18.2"><tspan x="17">jsno</tspan><tspan x="49">jsno</tspan><tspan class="d" x="69">Domain</tspan><tspan x="91">number</tspan></text>
<text class="t" y="26.7"><tspan x="17">jno</tspan><tspan x="49">jno</tspan><tspan class="d" x="69">Domain</tspan><tspan x="91">number</tspan></text>
<text class="t" y="35.2"><tspan x="17">uno</tspan><tspan x="49">uno</tspan><tspan class="d" x="69">Domain</tspan><tspan x="91">number</tspan></text>
<text class="t" y="43.7"><tspan x="17">sno</tspan><tspan x="49">sno2</tspan><tspan class="d" x="69">Domain</tspan><tspan x="91">number</tspan></text>
<text class="t" y="52.2"><tspan x="17">경력사항</tspan><tspan x="49">career</tspan><tspan class="d" x="69">Domain</tspan><tspan x="91">clob</tspan></text>
<text class="t" y="60.7"><tspan x="17">하고싶은말</tspan><tspan x="49">potu</tspan><tspan class="d" x="69">Domain</tspan><tspan x="91">clob</tspan></text>
<text class="t" y="69.2"><tspan x="17">지원일자</tspan><tspan x="49">jsdate</tspan><tspan class="d" x="69">Domain</tspan><tspan x="91">date</tspan></text>
</g>

<g id="boardlike" transform="translate(372,543)">
<rect class="tb" width="107" height="38"/>
<text class="h" x="3" y="8">자유게시판 추천</text><text class="h" x="104" y="8" text-anchor="end">boardlike</text>
<rect class="k" y="12" width="107" height="17"/><rect class="n" x="13" y="29" width="94" height="8.5"/>
<rect class="g" y="12" width="107" height="26"/>
<path class="s" d="M13,12V38M30,12V38M43,12V38M66,12V38"/>
<use href="#kf" y="12"/><use href="#kf" y="20.5"/>
<text class="t" y="18.2"><tspan x="17">bno</tspan><tspan x="33">bno</tspan><tspan class="d" x="46">Domain</tspan><tspan x="69">number</tspan></text>
<text class="t" y="26.7"><tspan x="17">uno</tspan><tspan x="33">uno</tspan><tspan class="d" x="46">Domain</tspan><tspan x="69">number</tspan></text>
<text class="t" y="35.2"><tspan x="17">추천</tspan><tspan x="33">lno</tspan><tspan class="d" x="46">Domain</tspan><tspan x="69">varchar2(100)</tspan></text>
</g>

<g id="board" transform="translate(491,543)">
<rect class="tb" width="139" height="106"/>
<text class="h" x="3" y="8">자유게시판</text><text class="h" x="136" y="8" text-anchor="end">board</text>
<rect class="k" y="12" width="139" height="17"/><rect class="n" x="14" y="29" width="125" height="76.5"/>
<rect class="g" y="12" width="139" height="94"/>
<path class="s" d="M14,12V106M36,12V106M72,12V106M92,12V106"/>
<use href="#kp" y="12"/><use href="#kf" y="20.5"/>
<text class="t" y="18.2"><tspan x="18">bno</tspan><tspan x="39">bno</tspan><tspan class="d" x="75">Domain</tspan><tspan x="95">number</tspan></text>
<text class="t" y="26.7"><tspan x="18">uno</tspan><tspan x="39">uno</tspan><tspan class="d" x="75">Domain</tspan><tspan x="95">number</tspan></text>
<text class="t" y="35.2"><tspan x="18">분류</tspan><tspan x="39">bcate</tspan><tspan class="d" x="75">Domain</tspan><tspan x="95">varchar2(100)</tspan></text>
<text class="t" y="43.7"><tspan x="18">제목</tspan><tspan x="39">btitle</tspan><tspan class="d" x="75">Domain</tspan><tspan x="95">varchar2(100)</tspan></text>
<text class="t" y="52.2"><tspan x="18">글쓴이</tspan><tspan x="39">bwriter</tspan><tspan class="d" x="75">Domain</tspan><tspan x="95">varchar2(100)</tspan></text>
<text class="t" y="60.7"><tspan x="18">작성일</tspan><tspan x="39">bdate</tspan><tspan class="d" x="75">Domain</tspan><tspan x="95">date</tspan></text>
<text class="t" y="69.2"><tspan x="18">수정일</tspan><tspan x="39">bupdatedate</tspan><tspan class="d" x="75">Domain</tspan><tspan x="95">date</tspan></text>
<text class="t" y="77.7"><tspan x="18">조회수</tspan><tspan x="39">bview</tspan><tspan class="d" x="75">Domain</tspan><tspan x="95">number</tspan></text>
<text class="t" y="86.2"><tspan x="18">좋아요</tspan><tspan x="39">blike</tspan><tspan class="d" x="75">Domain</tspan><tspan x="95">number</tspan></text>
<text class="t" y="94.7"><tspan x="18">내용</tspan><tspan x="39">bcontent</tspan><tspan class="d" x="75">Domain</tspan><tspan x="95">clob</tspan></text>
<text class="t" y="103.2"><tspan x="18">댓글 수</tspan><tspan x="39">breplycnt</tspan><tspan class="d" x="75">Domain</tspan><tspan x="95">number</tspan></text>
</g>

<g id="boardreply" transform="translate(337,598)">
<rect class="tb" width="129" height="63.5"/>
<text class="h" x="3" y="8">자유게시판 댓글</text><text class="h" x="126" y="8" text-anchor="end">boardreply</text>
<rect class="k" y="12" width="129" height="25.5"/><rect class="n" x="16" y="37.5" width="113" height="25.5"/>
<rect class="g" y="12" width="129" height="51.5"/>
<path class="s" d="M16,12V63.5M36,12V63.5M66,12V63.5M86,12V63.5"/>
<use href="#kp" y="12"/><use href="#kf" y="20.5"/><use href="#kf" y="29"/>
<text class="t" y="18.2"><tspan x="20">brno</tspan><tspan x="39">brno</tspan><tspan class="d" x="69">Domain</tspan><tspan x="89">number</tspan></text>
<text class="t" y="26.7"><tspan x="20">bno</tspan><tspan x="39">bno</tspan><tspan class="d" x="69">Domain</tspan><tspan x="89">number</tspan></text>
<text class="t" y="35.2"><tspan x="20">uno</tspan><tspan x="39">uno</tspan><tspan class="d" x="69">Domain</tspan><tspan x="89">number</tspan></text>
<text class="t" y="43.7"><tspan x="20">작성자</tspan><tspan x="39">brwriter</tspan><tspan class="d" x="69">Domain</tspan><tspan x="89">varchar2(100)</tspan></text>
<text class="t" y="52.2"><tspan x="20">내용</tspan><tspan x="39">brcontent</tspan><tspan class="d" x="69">Domain</tspan><tspan x="89">varchar2(100)</tspan></text>
<text class="t" y="60.7"><tspan x="20">작성일</tspan><tspan x="39">brdate</tspan><tspan class="d" x="69">Domain</tspan><tspan x="89">date</tspan></text>
</g>

<g id="boardimg" transform="translate(504,671)">
<rect class="tb" width="154" height="55"/>
<text class="h" x="3" y="8">자유게시판 사진</text><text class="h" x="151" y="8" text-anchor="end">boardimg</text>
<rect class="k" y="12" width="154" height="17"/><rect class="n" x="14" y="29" width="140" height="25.5"/>
<rect class="g" y="12" width="154" height="43"/>
<path class="s" d="M14,12V55M41,12V55M73,12V55M109,12V55"/>
<use href="#kp" y="12"/><use href="#kf" y="20.5"/>
<text class="t" y="18.2"><tspan x="18">bino</tspan><tspan x="44">bino</tspan><tspan class="d" x="76">Domain</tspan><tspan x="112">number</tspan></text>
<text class="t" y="26.7"><tspan x="18">bno</tspan><tspan x="44">bno</tspan><tspan class="d" x="76">Domain</tspan><tspan x="112">number</tspan></text>
<text class="t" y="35.2"><tspan x="18">uuid</tspan><tspan x="44">uuid</tspan><tspan class="d" x="76">Domain</tspan><tspan x="112">varchar2(200)</tspan></text>
<text class="t" y="43.7"><tspan x="18">파일경로</tspan><tspan x="44">uploadpath</tspan><tspan class="d" x="76">Domain</tspan><tspan x="112">varchar2(200)</tspan></text>
<text class="t" y="52.2"><tspan x="18">파일명</tspan><tspan x="44">filename</tspan><tspan class="d" x="76">Domain</tspan><tspan x="112">varchar2(200)</tspan></text>
</g>
</svg>
